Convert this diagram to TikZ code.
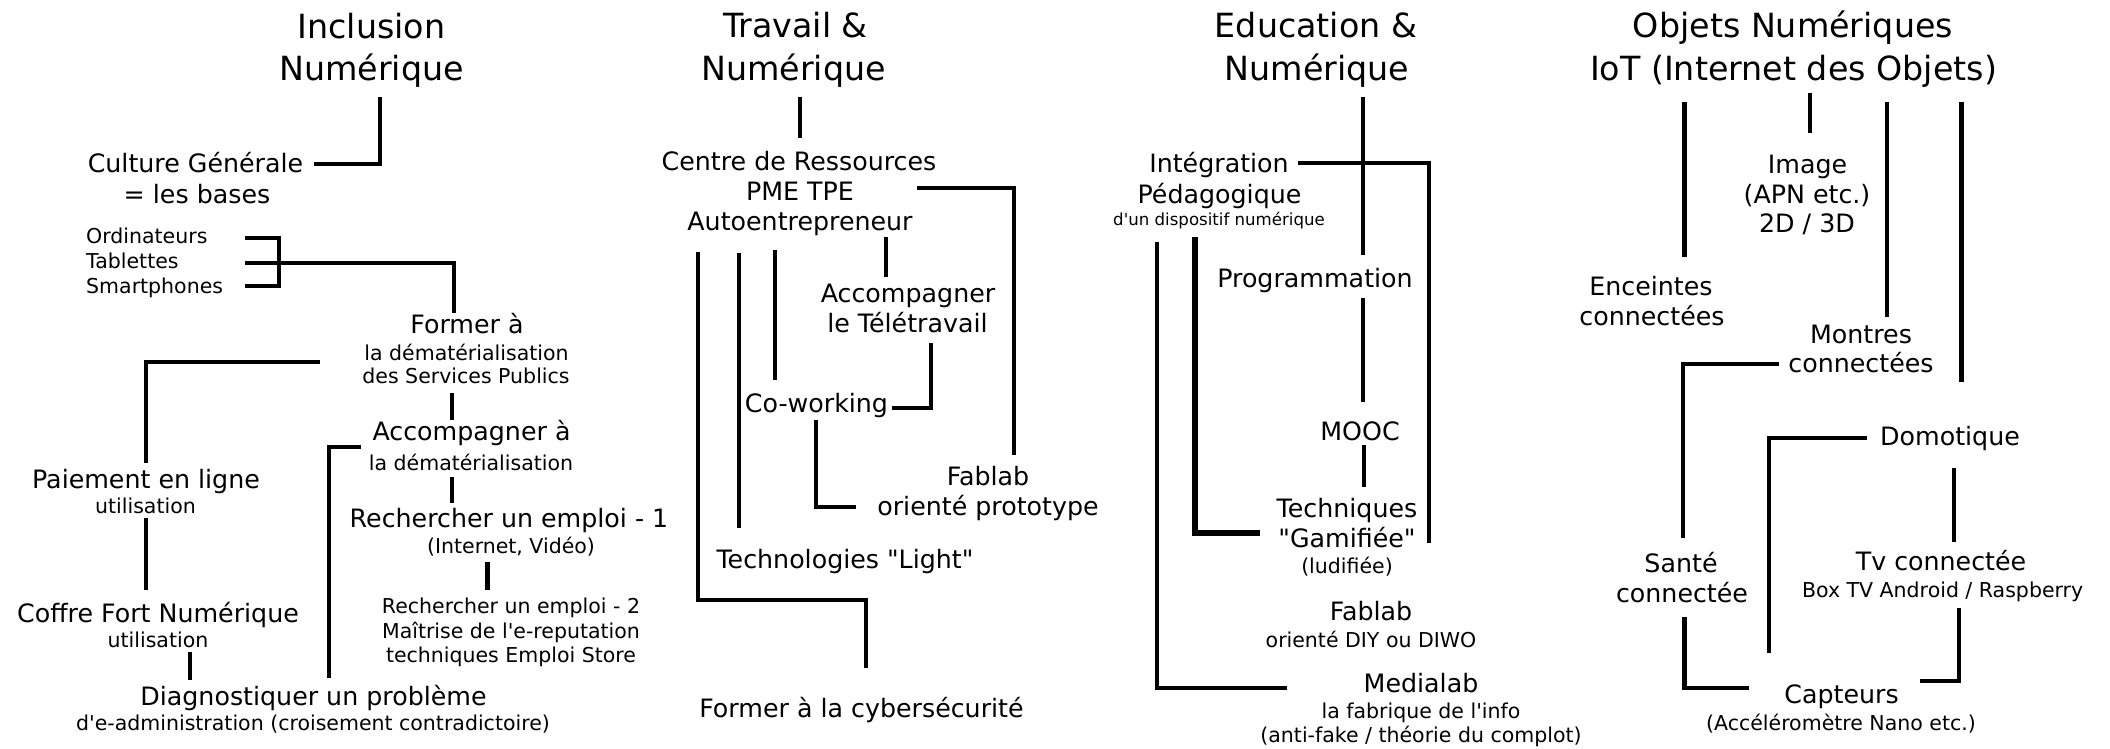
\documentclass[tikz,border=0pt]{standalone}
\usepackage{fontspec}
\setmainfont{DejaVu Sans}
\newcommand{\ap}{\textquotesingle}
\newcommand{\dq}{\textquotedbl}
\tikzset{
 ttl/.style={font=\fontsize{33.3}{40}\selectfont, anchor=base, inner sep=0pt},
 med/.style={font=\fontsize{25.3}{30}\selectfont, anchor=base, inner sep=0pt},
 sml/.style={font=\fontsize{20.5}{25}\selectfont, anchor=base, inner sep=0pt},
 tny/.style={font=\fontsize{16.6}{20}\selectfont, anchor=base, inner sep=0pt},
 con/.style={line width=4.5pt, line join=miter},
 conb/.style={line width=6pt, line join=miter},
}
\begin{document}
\begin{tikzpicture}[x=1pt,y=-1pt]
\path[use as bounding box, fill=white] (0,0) rectangle (2110,748);

% ---------------- Column 1 : Inclusion Numerique
\node[ttl] (a0a) at (371.5,38) {Inclusion};
\node[ttl] (a0b) at (371.5,80) {Numérique};
\node[med] (a1a) at (195.5,172) {Culture Générale};
\node[med] (a1b) at (197,203) {= les bases};
\node[sml, anchor=base west] (a2a) at (86,243) {Ordinateurs};
\node[sml, anchor=base west] (a2b) at (86,268) {Tablettes};
\node[sml, anchor=base west] (a2c) at (86,293) {Smartphones};
\node[med] (a3a) at (467,333) {Former à};
\node[sml] (a3b) at (466.5,360) {la dématérialisation};
\node[sml] (a3c) at (466,383) {des Services Publics};
\node[med] (a4a) at (471.5,440) {Accompagner à};
\node[sml] (a4b) at (471,470) {la dématérialisation};
\node[med] (a5a) at (509,527) {Rechercher un emploi - 1};
\node[sml] (a5b) at (511,553) {(Internet, Vidéo)};
\node[sml] (a6a) at (511,613) {Rechercher un emploi - 2};
\node[sml] (a6b) at (511,638) {Maîtrise de l\ap e-reputation};
\node[sml] (a6c) at (511,662) {techniques Emploi Store};
\node[med] (a7a) at (146,488) {Paiement en ligne};
\node[sml] (a7b) at (145.5,513) {utilisation};
\node[med] (a8a) at (158,622) {Coffre Fort Numérique};
\node[sml] (a8b) at (158,647) {utilisation};
\node[med] (a9a) at (313.5,705) {Diagnostiquer un problème};
\node[sml] (a9b) at (313,730) {d\ap e-administration (croisement contradictoire)};

\coordinate (p1) at (380,97);   \coordinate (p2) at (314,164);
\coordinate (p3) at (245,238);  \coordinate (p4) at (245,286);
\coordinate (p5) at (245,263);  \coordinate (p6) at (454,313);
\coordinate (p7) at (452,393);  \coordinate (p8) at (452,420);
\coordinate (p9) at (320,362);  \coordinate (p10) at (146,463);
\coordinate (p11) at (146,518); \coordinate (p12) at (146,590);
\coordinate (p13) at (190,652); \coordinate (p14) at (190,680);
\coordinate (p15) at (361,447); \coordinate (p16) at (329,678);
\coordinate (p17) at (452,477); \coordinate (p18) at (452,503);
\coordinate (p19) at (487.5,562); \coordinate (p20) at (487.5,590);

\draw[con] (p1) |- (p2);
\draw[con] (p3) -- (279,238) -- (279,286) -- (p4);
\draw[con] (p5) -| (p6);
\draw[con] (p7) -- (p8);
\draw[con] (p9) -| (p10);
\draw[con] (p11) -- (p12);
\draw[con] (p13) -- (p14);
\draw[con] (p15) -| (p16);
\draw[con] (p17) -- (p18);
\draw[con] (p19) -- (p20);

% ---------------- Column 2 : Travail & Numerique
\node[ttl] (b0a) at (795.5,37) {Travail \&};
\node[ttl] (b0b) at (793.5,80) {Numérique};
\node[med] (b1a) at (799,170) {Centre de Ressources};
\node[med] (b1b) at (800,200) {PME TPE};
\node[med] (b1c) at (800,230) {Autoentrepreneur};
\node[med] (b2a) at (908,302) {Accompagner};
\node[med] (b2b) at (907.5,332) {le Télétravail};
\node[med] (b3) at (816.5,412) {Co-working};
\node[med] (b4a) at (988,485) {Fablab};
\node[med] (b4b) at (988,515) {orienté prototype};
\node[med] (b5) at (845,568) {Technologies \dq Light\dq};
\node[med] (b6) at (861.5,717) {Former à la cybersécurité};

\coordinate (q1) at (800,97);   \coordinate (q2) at (800,138);
\coordinate (q3) at (917,188);  \coordinate (q4) at (1014,455);
\coordinate (q5) at (886,237);  \coordinate (q6) at (886,277);
\coordinate (q7) at (931,343);  \coordinate (q8) at (892,408);
\coordinate (q9) at (775,250);  \coordinate (q10) at (775,380);
\coordinate (q11) at (739,253); \coordinate (q12) at (739,528);
\coordinate (q13) at (698,252); \coordinate (q14) at (866,668);
\coordinate (q15) at (816,420); \coordinate (q16) at (856,507);

\draw[con] (q1) -- (q2);
\draw[con] (q3) -| (q4);
\draw[con] (q5) -- (q6);
\draw[con] (q7) |- (q8);
\draw[con] (q9) -- (q10);
\draw[con] (q11) -- (q12);
\draw[con] (q13) -- (698,600) -- (866,600) -- (q14);
\draw[con] (q15) |- (q16);

% ---------------- Column 3 : Education & Numerique
\node[ttl] (c0a) at (1316,37) {Education \&};
\node[ttl] (c0b) at (1317,80) {Numérique};
\node[med] (c1a) at (1219,172) {Intégration};
\node[med] (c1b) at (1219.5,203) {Pédagogique};
\node[tny] (c1c) at (1219,225) {d\ap un dispositif numérique};
\node[med] (c2) at (1315,287) {Programmation};
\node[med] (c3) at (1360,440) {MOOC};
\node[med] (c4a) at (1347,517) {Techniques};
\node[med] (c4b) at (1347,547) {\dq Gamifiée\dq};
\node[sml] (c4c) at (1347,573) {(ludifiée)};
\node[med] (c5a) at (1371,620) {Fablab};
\node[sml] (c5b) at (1371,647) {orienté DIY ou DIWO};
\node[med] (c6a) at (1421,692) {Medialab};
\node[sml] (c6b) at (1421,718) {la fabrique de l\ap info};
\node[sml] (c6c) at (1421,742) {(anti-fake / théorie du complot)};

\coordinate (r1) at (1363,97);   \coordinate (r2) at (1363,255);
\coordinate (r3) at (1298,163);  \coordinate (r4) at (1429,543);
\coordinate (r5) at (1363,298);  \coordinate (r6) at (1363,402);
\coordinate (r7) at (1364,445);  \coordinate (r8) at (1364,487);
\coordinate (r9) at (1195,237);  \coordinate (r10) at (1260,533);
\coordinate (r11) at (1157,242); \coordinate (r12) at (1287,688);

\draw[con] (r1) -- (r2);
\draw[con] (r3) -| (r4);
\draw[con] (r5) -- (r6);
\draw[con] (r7) -- (r8);
\draw[conb] (r9) |- (r10);
\draw[con] (r11) |- (r12);

% ---------------- Column 4 : Objets Numeriques
\node[ttl] (d0a) at (1793,37) {Objets Numériques};
\node[ttl] (d0b) at (1793.5,80) {IoT (Internet des Objets)};
\node[med] (d1a) at (1807.5,173) {Image};
\node[med] (d1b) at (1807,203) {(APN etc.)};
\node[med] (d1c) at (1807,232) {2D / 3D};
\node[med] (d2a) at (1651,295) {Enceintes};
\node[med] (d2b) at (1652,325) {connectées};
\node[med] (d3a) at (1861,343) {Montres};
\node[med] (d3b) at (1861,372) {connectées};
\node[med] (d4) at (1950,445) {Domotique};
\node[med] (d5a) at (1681,572) {Santé};
\node[med] (d5b) at (1682,602) {connectée};
\node[med] (d6a) at (1941,570) {Tv connectée};
\node[sml] (d6b) at (1942.6,597) {Box TV Android / Raspberry};
\node[med] (d7a) at (1841.5,703) {Capteurs};
\node[sml] (d7b) at (1841,730) {(Accéléromètre Nano etc.)};

\coordinate (s1) at (1684.5,102); \coordinate (s2) at (1684.5,257);
\coordinate (s3) at (1810,93);    \coordinate (s4) at (1810,133);
\coordinate (s5) at (1887,102);   \coordinate (s6) at (1887,317);
\coordinate (s7) at (1961.6,102); \coordinate (s8) at (1961.6,382);
\coordinate (s9) at (1779,364);   \coordinate (s10) at (1683,538);
\coordinate (s11) at (1684.5,617); \coordinate (s12) at (1749,688);
\coordinate (s13) at (1867,438);  \coordinate (s14) at (1769,653);
\coordinate (s15) at (1954,468);  \coordinate (s16) at (1954,542);
\coordinate (s17) at (1959,608);  \coordinate (s18) at (1919.5,681);

\draw[con] (s1) -- (s2);
\draw[con] (s3) -- (s4);
\draw[con] (s5) -- (s6);
\draw[con] (s7) -- (s8);
\draw[con] (s9) -| (s10);
\draw[con] (s11) |- (s12);
\draw[con] (s13) -| (s14);
\draw[con] (s15) -- (s16);
\draw[con] (s17) |- (s18);
\end{tikzpicture}
\end{document}
